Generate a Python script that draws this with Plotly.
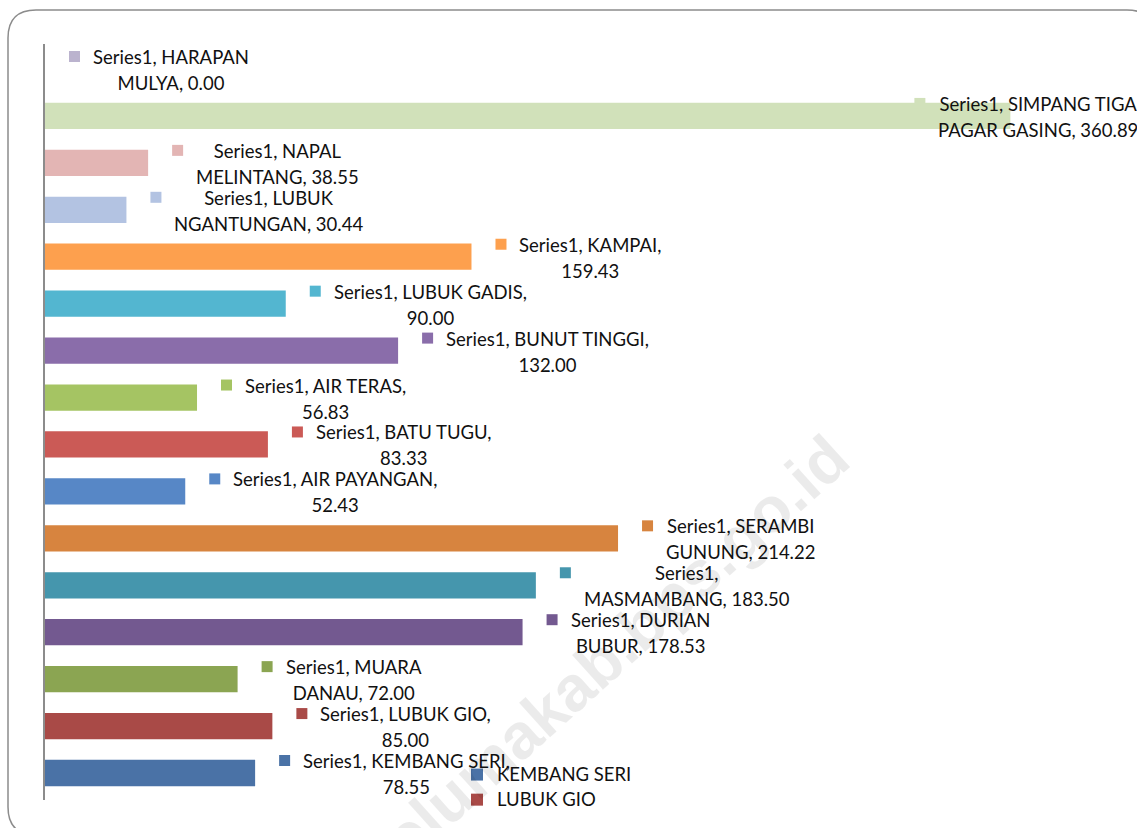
import plotly.graph_objects as go

# ---- data (bottom -> top, as in the chart) ----
categories = ["KEMBANG SERI", "LUBUK GIO", "MUARA DANAU", "DURIAN BUBUR", "MASMAMBANG",
              "SERAMBI GUNUNG", "AIR PAYANGAN", "BATU TUGU", "AIR TERAS", "BUNUT TINGGI",
              "LUBUK GADIS", "KAMPAI", "LUBUK NGANTUNGAN", "NAPAL MELINTANG",
              "SIMPANG TIGA PAGAR GASING", "HARAPAN MULYA"]
values = [78.55, 85.00, 72.00, 178.53, 183.50, 214.22, 52.43, 83.33, 56.83, 132.00,
          90.00, 159.43, 30.44, 38.55, 360.89, 0.00]
series_name = "Series1"
# number of words on the first line of each wrapped data label
label_line1_words = [3, 3, 2, 2, 1, 2, 3, 3, 3, 3, 3, 2, 2, 2, 3, 2]

# ---- styles ----
colors = ["#4A72A6", "#A94A47", "#8BA552", "#735990", "#4596AD", "#D7843F",
          "#5787C6", "#CB5A56", "#A5C463", "#8A6DAA", "#53B6D0", "#FDA04E",
          "#B3C3E2", "#E3B5B4", "#D1E1BA", "#BBB3CE"]
legend_shown = {"KEMBANG SERI", "LUBUK GIO"}
label_shift_override = {"SIMPANG TIGA PAGAR GASING": -120}

W, H = 1137, 828
ML, MR, MT, MB = 45, 0, 44, 28
PX_PER_UNIT = 2.675
x_max = (W - ML - MR) / PX_PER_UNIT

FONT = "Lato"
TXT = 18.5

fig = go.Figure()
for cat, val, col in zip(categories, values, colors):
    fig.add_trace(go.Bar(
        x=[val], y=[cat], orientation="h",
        name=f"<span style='font-size:{TXT}px'>{cat}</span>",
        marker=dict(color=col, line=dict(width=0)),
        width=0.56, showlegend=cat in legend_shown,
        hovertemplate=f"{cat}: %{{x:.2f}}<extra></extra>",
    ))

annotations = []
shapes = []
for cat, val, col, k in zip(categories, values, colors, label_line1_words):
    words = f"{series_name}, {cat}, {val:.2f}".split(" ")
    l1 = " ".join(words[:k])
    l2 = " ".join(words[k:])
    shift = label_shift_override.get(cat, 0)
    text = (f"<span style='font-size:{TXT}px'>{l1}</span><br>"
            f"<span style='font-size:{TXT}px'>{l2}</span>")
    annotations.append(dict(
        x=val, y=cat, xref="x", yref="y", xanchor="left", yanchor="middle",
        xshift=46 + shift, yshift=-1, text=text, showarrow=False, align="center",
        font=dict(family=FONT, size=20, color="#111111"),
    ))
    shapes.append(dict(
        type="rect", xref="x", yref="y", xsizemode="pixel", ysizemode="pixel",
        xanchor=val, yanchor=cat, x0=24 + shift, x1=35 + shift, y0=7, y1=18,
        fillcolor=col, line=dict(width=0), layer="above",
    ))

pw, ph = W - ML - MR, H - MT - MB
def px(X):
    return (X - ML) / pw
def py(Y):
    return (H - MB - Y) / ph

# watermark
annotations.append(dict(
    x=px(603), y=py(660), xref="paper", yref="paper",
    text="selumakab.bps.go.id", showarrow=False,
    textangle=-42, xanchor="center", yanchor="middle",
    font=dict(family="Liberation Sans", size=64, color="rgba(0,0,0,0.08)", weight="bold"),
))

# rounded chart frame
Lf, Tf, Rf, Bf, r = 8, 10, 1155, 835, 28
path = (f"M {px(Lf)},{py(Tf + r)} Q {px(Lf)},{py(Tf)} {px(Lf + r)},{py(Tf)} "
        f"L {px(Rf - r)},{py(Tf)} Q {px(Rf)},{py(Tf)} {px(Rf)},{py(Tf + r)} "
        f"L {px(Rf)},{py(Bf - r)} Q {px(Rf)},{py(Bf)} {px(Rf - r)},{py(Bf)} "
        f"L {px(Lf + r)},{py(Bf)} Q {px(Lf)},{py(Bf)} {px(Lf)},{py(Bf - r)} Z")
shapes.append(dict(type="path", xref="paper", yref="paper", path=path,
                   line=dict(color="#8C8C8C", width=1.5), layer="below"))

fig.update_layout(
    width=W, height=H,
    margin=dict(l=ML, r=MR, t=MT, b=MB),
    paper_bgcolor="white", plot_bgcolor="rgba(0,0,0,0)",
    barmode="overlay",
    font=dict(family=FONT, size=TXT, color="#111111"),
    xaxis=dict(range=[0, x_max], visible=False, fixedrange=True),
    yaxis=dict(type="category", categoryorder="array", categoryarray=categories,
               showticklabels=False, ticks="", showgrid=False, zeroline=False,
               showline=True, linecolor="#8C8C8C", linewidth=2, fixedrange=True),
    legend=dict(x=px(457), y=py(757), xanchor="left", yanchor="top",
                bgcolor="rgba(0,0,0,0)", borderwidth=0,
                font=dict(family=FONT, size=17, color="#111111"),
                itemwidth=30, tracegroupgap=0),
    annotations=annotations,
    shapes=shapes,
)

fig.write_html("out.html", config={"displayModeBar": False},
               post_script="document.body.style.margin='0';")
